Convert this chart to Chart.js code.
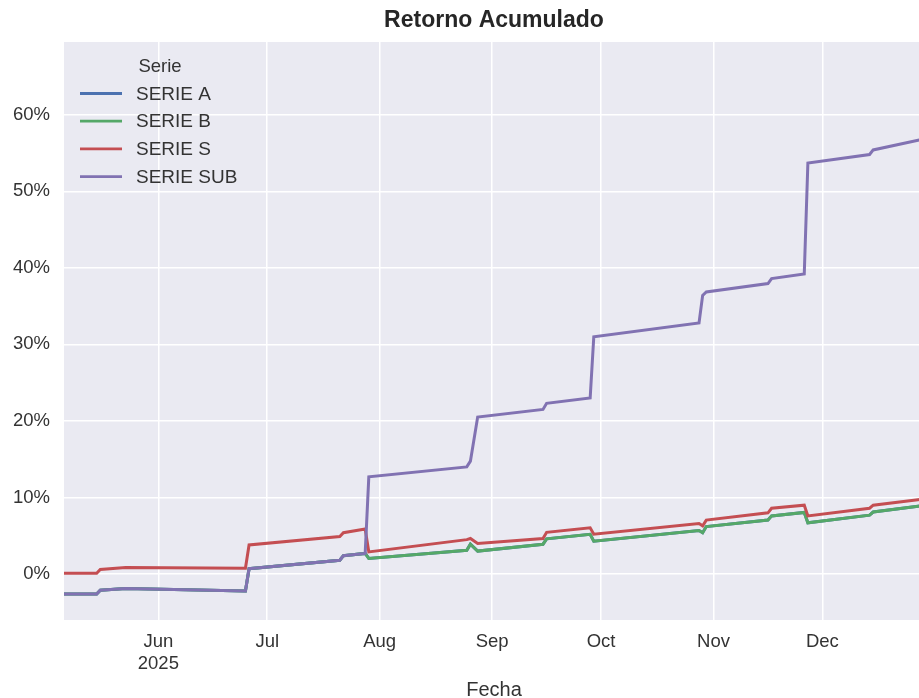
<!DOCTYPE html>
<html>
<head>
<meta charset="utf-8">
<title>Retorno Acumulado</title>
<script src="https://cdn.jsdelivr.net/npm/chart.js@4.4.1/dist/chart.umd.min.js"></script>
<style>
  html, body { margin: 0; padding: 0; background: #fff; overflow: hidden; }
  #wrap { width: 919px; height: 698px; overflow: hidden; }
</style>
</head>
<body>
<div id="wrap"><canvas id="retorno" width="924" height="698"></canvas></div>
<script>
// fechas de los quiebres de cada serie (los tramos entre ellas son rectos)
const fechas = ['2025-05-06', '2025-05-15', '2025-05-16', '2025-05-23', '2025-06-25', '2025-06-26',
  '2025-07-21', '2025-07-22', '2025-07-28', '2025-07-29', '2025-08-25', '2025-08-26', '2025-08-28',
  '2025-09-15', '2025-09-16', '2025-09-28', '2025-09-29', '2025-10-28', '2025-10-29', '2025-10-30',
  '2025-11-16', '2025-11-17', '2025-11-26', '2025-11-27', '2025-12-14', '2025-12-15', '2025-12-29'];

// retorno acumulado en %
const serieA = [-2.6, -2.6, -2.1, -1.9, -2.2, 0.7, 1.8, 2.4, 2.7, 2.05, 3.1, 3.9, 3.0,
  3.9, 4.6, 5.2, 4.3, 5.7, 5.4, 6.2, 7.05, 7.6, 8.05, 6.7, 7.7, 8.1, 8.95];
const serieB = [-2.6, -2.6, -2.1, -1.9, -2.2, 0.7, 1.8, 2.4, 2.7, 2.05, 3.1, 3.9, 3.0,
  3.9, 4.6, 5.2, 4.3, 5.7, 5.4, 6.2, 7.05, 7.6, 8.05, 6.7, 7.7, 8.1, 8.95];
const serieS = [0.1, 0.1, 0.6, 0.85, 0.75, 3.8, 4.9, 5.4, 5.9, 2.9, 4.5, 4.65, 4.0,
  4.65, 5.45, 6.05, 5.2, 6.6, 6.3, 7.05, 8.0, 8.6, 9.0, 7.6, 8.6, 9.0, 9.8];
const serieSub = [-2.6, -2.6, -2.1, -1.9, -2.2, 0.7, 1.8, 2.4, 2.7, 12.7, 14.0, 14.75, 20.5,
  21.5, 22.3, 23.0, 31.0, 32.8, 36.4, 36.85, 37.95, 38.6, 39.2, 53.7, 54.8, 55.4, 56.85];

const nombres = ['SERIE A', 'SERIE B', 'SERIE S', 'SERIE SUB'];
const colores = ['#4C72B0', '#55A868', '#C44E52', '#8172B2'];

const mesesFechas = ['2025-06-01', '2025-07-01', '2025-08-01', '2025-09-01', '2025-10-01', '2025-11-01', '2025-12-01'];
const mesesEtiquetas = [['Jun', '2025'], 'Jul', 'Aug', 'Sep', 'Oct', 'Nov', 'Dec'];
const yTicks = [0, 10, 20, 30, 40, 50, 60];

const FUENTE = '"Liberation Sans", Arial, Helvetica, sans-serif';

function dia(s) {
  const p = s.split('-').map(Number);
  return (Date.UTC(p[0], p[1] - 1, p[2]) - Date.UTC(2025, 0, 1)) / 86400000;
}

function puntos(valores) {
  return fechas.map((f, i) => ({ x: dia(f), y: valores[i] }));
}

const fondo = {
  id: 'fondo',
  beforeDraw(chart) {
    const { ctx, chartArea: a } = chart;
    ctx.save();
    ctx.fillStyle = '#ffffff';
    ctx.fillRect(0, 0, chart.width, chart.height);
    ctx.fillStyle = '#EAEAF2';
    ctx.fillRect(a.left, a.top, a.right - a.left, a.bottom - a.top);
    ctx.restore();
  }
};

const textos = {
  id: 'textos',
  afterDraw(chart) {
    const { ctx, chartArea: a } = chart;
    ctx.save();
    // titulo centrado sobre el area del grafico
    ctx.fillStyle = '#262626';
    ctx.font = 'bold 23px ' + FUENTE;
    ctx.textAlign = 'center';
    ctx.textBaseline = 'middle';
    ctx.fillText('Retorno Acumulado', (a.left + a.right) / 2, 21);

    // leyenda sin marco
    ctx.font = '18.5px ' + FUENTE;
    ctx.fillStyle = '#333';
    ctx.fillText('Serie', a.left + 96, a.top + 25);
    ctx.font = '19px ' + FUENTE;
    ctx.textAlign = 'left';
    chart.data.datasets.forEach((ds, i) => {
      const y = a.top + 51.5 + i * 27.7;
      ctx.strokeStyle = ds.borderColor;
      ctx.lineWidth = 2.8;
      ctx.beginPath();
      ctx.moveTo(a.left + 16, y);
      ctx.lineTo(a.left + 58, y);
      ctx.stroke();
      ctx.fillText(ds.label, a.left + 72, y + 1);
    });
    ctx.restore();
  }
};

const series = [serieA, serieB, serieS, serieSub];

new Chart(document.getElementById('retorno').getContext('2d'), {
  type: 'line',
  data: {
    datasets: series.map((v, i) => ({
      label: nombres[i],
      data: puntos(v),
      borderColor: colores[i],
      backgroundColor: colores[i],
      borderWidth: 3,
      pointRadius: 0,
      tension: 0,
      fill: false,
      order: 4 - i
    }))
  },
  options: {
    responsive: false,
    animation: false,
    layout: { padding: { top: 42, left: 0, right: 0, bottom: 0 } },
    plugins: {
      legend: { display: false },
      title: { display: false },
      tooltip: { enabled: false }
    },
    scales: {
      x: {
        type: 'linear',
        min: dia(fechas[0]),
        max: dia(fechas[fechas.length - 1]),
        afterBuildTicks(scale) {
          scale.ticks = mesesFechas.map(f => ({ value: dia(f) }));
        },
        afterFit(scale) { scale.height = 78; },
        grid: { color: '#ffffff', lineWidth: 1.5, drawTicks: false },
        border: { display: false },
        ticks: {
          padding: 11,
          maxRotation: 0,
          autoSkip: false,
          color: '#333',
          font: { family: FUENTE, size: 18.5, lineHeight: 1.2 },
          callback: (v, i) => mesesEtiquetas[i]
        },
        title: {
          display: true,
          text: 'Fecha',
          color: '#333',
          font: { family: FUENTE, size: 20, lineHeight: 0.8 },
          padding: { top: 0, bottom: 0 }
        }
      },
      y: {
        min: -6,
        max: 69.5,
        afterBuildTicks(scale) {
          scale.ticks = yTicks.map(v => ({ value: v }));
        },
        afterFit(scale) { scale.width = 64; },
        grid: { color: '#ffffff', lineWidth: 1.5, drawTicks: false },
        border: { display: false },
        ticks: {
          padding: 14,
          color: '#333',
          font: { family: FUENTE, size: 18.5 },
          callback: v => v + '%'
        }
      }
    }
  },
  plugins: [fondo, textos]
});
</script>
</body>
</html>
